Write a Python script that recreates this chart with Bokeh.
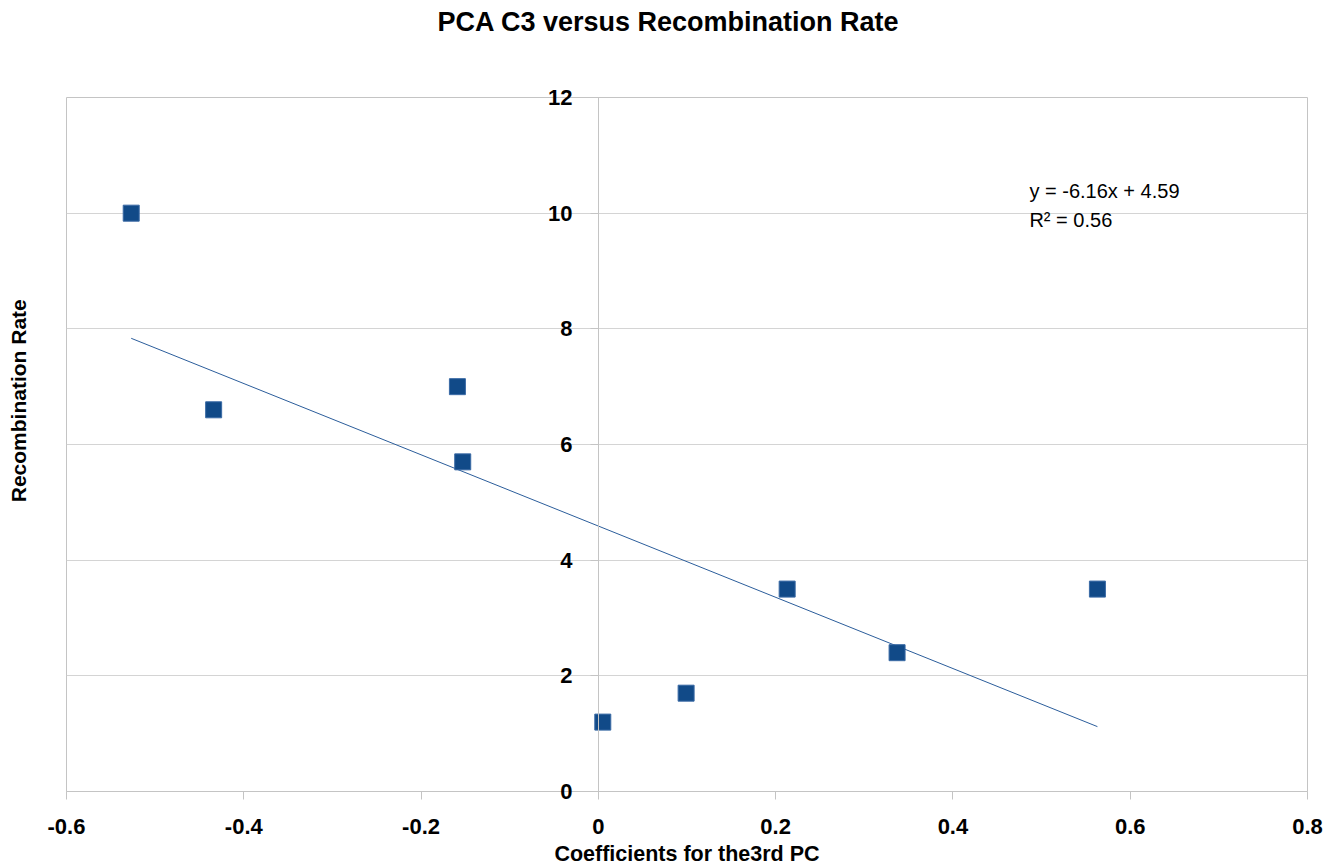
from bokeh.plotting import figure
from bokeh.models import (Range1d, FixedTicker, NumeralTickFormatter, Label,
                          ColumnDataSource, LinearAxis, Title)
from bokeh.embed import file_html
from bokeh.resources import INLINE

# Data
coef_pc3 = [-0.527, -0.434, -0.159, -0.153, 0.005, 0.099, 0.213, 0.337, 0.563]
recomb_rate = [10.0, 6.6, 7.0, 5.7, 1.2, 1.7, 3.5, 2.4, 3.5]
trend_slope = -6.16
trend_intercept = 4.59
r_squared = 0.56
x_ticks = [-0.6, -0.4, -0.2, 0, 0.2, 0.4, 0.6, 0.8]
y_ticks = [0, 2, 4, 6, 8, 10, 12]

FONT = "Liberation Sans"
GRID = "#d4d4d4"
AXIS_GRAY = "#c4c4c4"

p = figure(width=1336, height=868, output_backend="svg", toolbar_location=None,
           x_range=Range1d(-0.6, 0.8), y_range=Range1d(0, 12),
           min_border_left=66, min_border_right=29, min_border_top=97, min_border_bottom=75)

p.outline_line_color = AXIS_GRAY
p.outline_line_width = 1

# title
p.title = Title(text="PCA C3 versus Recombination Rate", align="left", offset=371,
                vertical_align="top", standoff=12,
                text_font=FONT, text_font_style="bold", text_font_size="27px",
                text_color="black")

# grids
p.xgrid.visible = False
p.ygrid.ticker = FixedTicker(ticks=y_ticks)
p.ygrid.grid_line_color = GRID

# x axis (bottom)
xa = p.below[0]
xa.ticker = FixedTicker(ticks=x_ticks)
xa.formatter = NumeralTickFormatter(format="0.[0]")
xa.axis_line_color = AXIS_GRAY
xa.major_tick_line_color = AXIS_GRAY
xa.major_tick_out = 8
xa.major_tick_in = 0
xa.minor_tick_line_color = None
xa.major_label_text_font = FONT
xa.major_label_text_font_style = "bold"
xa.major_label_text_font_size = "22px"
xa.major_label_text_color = "black"
xa.major_label_standoff = 19
xa.axis_label = "Coefficients for the3rd PC"
xa.axis_label_text_font = FONT
xa.axis_label_text_font_style = "bold"
xa.axis_label_text_font_size = "21.5px"
xa.axis_label_text_color = "black"
xa.axis_label_standoff = 5

# innermost left axis: carries only the y-axis title (leading no-break spaces
# move the visible words up, as in the reference)
ylab = p.left[0]
ylab.ticker = FixedTicker(ticks=[])
ylab.axis_line_color = None
ylab.major_tick_line_color = None
ylab.minor_tick_line_color = None
ylab.major_tick_out = 0
ylab.major_label_standoff = 0
ylab.axis_label = "\u00a0" * 15 + "Recombination Rate"
ylab.axis_label_text_font = FONT
ylab.axis_label_text_font_style = "bold"
ylab.axis_label_text_font_size = "21px"
ylab.axis_label_text_color = "black"
ylab.axis_label_standoff = 37

# y tick labels (shifted next to x = 0)
ylbl = LinearAxis(ticker=FixedTicker(ticks=y_ticks))
ylbl.axis_line_color = None
ylbl.major_tick_line_color = None
ylbl.minor_tick_line_color = None
ylbl.major_tick_out = 0
ylbl.major_label_text_font = FONT
ylbl.major_label_text_font_style = "bold"
ylbl.major_label_text_font_size = "22px"
ylbl.major_label_text_color = "black"
ylbl.major_label_standoff = -569
p.add_layout(ylbl, "left")

# y axis line and ticks at x = 0
yline = LinearAxis(ticker=FixedTicker(ticks=y_ticks), fixed_location=0)
yline.axis_line_color = AXIS_GRAY
yline.major_tick_line_color = AXIS_GRAY
yline.major_tick_out = 8
yline.major_tick_in = 0
yline.minor_tick_line_color = None
yline.major_label_text_font_size = "0px"
yline.major_label_text_alpha = 0
p.add_layout(yline, "left")

# empty spacer axis above the frame (invisible label), pushes the title up
spacer = LinearAxis(ticker=FixedTicker(ticks=[]))
spacer.axis_line_color = None
spacer.major_tick_line_color = None
spacer.minor_tick_line_color = None
spacer.major_tick_out = 0
spacer.major_tick_in = 0
spacer.major_label_standoff = 0
spacer.axis_label = "\u00a0"
spacer.axis_label_text_font = FONT
spacer.axis_label_text_font_size = "21.5px"
spacer.axis_label_text_alpha = 0
spacer.axis_label_standoff = 26
p.add_layout(spacer, "above")

# trend line
x0, x1 = min(coef_pc3), max(coef_pc3)
trend_src = ColumnDataSource(dict(x=[x0, x1],
                                  y=[trend_slope * x0 + trend_intercept, trend_slope * x1 + trend_intercept]))
p.line("x", "y", source=trend_src, line_color="#2b5d9b", line_width=1)

# points
src = ColumnDataSource(dict(x=coef_pc3, y=recomb_rate))
p.scatter("x", "y", source=src, marker="square", size=16,
          fill_color="#114a88", line_color="#3a6aa5", line_width=1)

# regression annotation
p.add_layout(Label(x=0.4863, y=10.38,
                   text="y = %.2fx + %.2f" % (trend_slope, trend_intercept),
                   text_font=FONT, text_font_size="20px",
                   text_align="left", text_baseline="middle", text_color="black"))
p.add_layout(Label(x=0.4863, y=9.88, text="R\u00b2 = %.2f" % r_squared,
                   text_font=FONT, text_font_size="20px",
                   text_align="left", text_baseline="middle", text_color="black"))

open("out.html", "w").write(file_html(p, INLINE))
